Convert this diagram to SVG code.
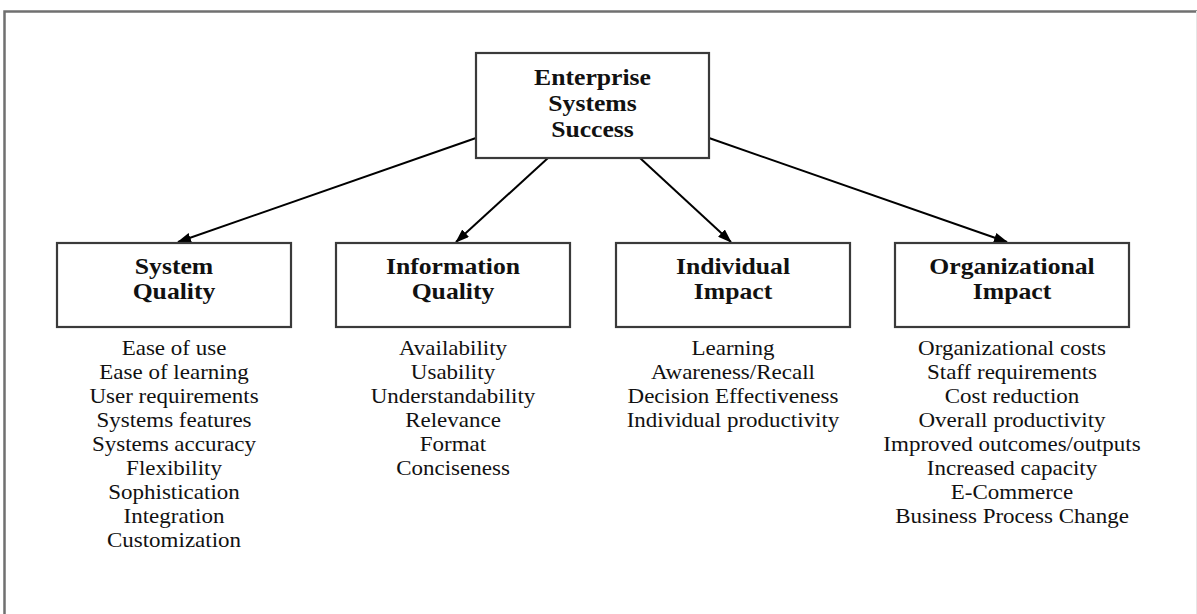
<svg xmlns="http://www.w3.org/2000/svg" width="1197" height="614" viewBox="0 0 1197 614">
<defs>
<style>
.frame{stroke:#707070;stroke-width:2.5;fill:none}
.box{fill:#fff;stroke:#3a3a3a;stroke-width:2.2}
.title{font-family:"Liberation Serif","Times New Roman",serif;font-weight:bold;font-size:24px;fill:#111;text-anchor:middle}
.item{font-family:"Liberation Serif","Times New Roman",serif;font-size:21.5px;fill:#111;text-anchor:middle}
.conn{stroke:#000;stroke-width:2;fill:none;marker-end:url(#ah)}
</style>
<marker id="ah" viewBox="0 0 14 10" refX="13" refY="5" markerWidth="14" markerHeight="10" markerUnits="userSpaceOnUse" orient="auto">
<path d="M0,0 L14,5 L0,10 Z" fill="#000"/>
</marker>
</defs>
<rect x="0" y="0" width="1197" height="614" fill="#fff"/>
<path class="frame" d="M4.5,614 V11.5 H1197"/>
<line x1="1196.5" y1="11" x2="1196.5" y2="614" stroke="#e6e6e6" stroke-width="1"/>

<g id="connectors">
<line class="conn" x1="476" y1="138" x2="178" y2="242"/>
<line class="conn" x1="548" y1="158" x2="456" y2="242"/>
<line class="conn" x1="640" y1="158" x2="731" y2="242"/>
<line class="conn" x1="709" y1="138" x2="1007" y2="242"/>
</g>

<g id="node-ess">
<rect class="box" x="476" y="53" width="233" height="105"/>
<g transform="translate(592.5,0) scale(1.07,1)">
<text class="title" x="0" y="85">Enterprise</text>
<text class="title" x="0" y="111">Systems</text>
<text class="title" x="0" y="137">Success</text>
</g>
</g>

<g id="node-system-quality">
<rect class="box" x="57" y="243" width="234" height="84"/>
<g transform="translate(174,0) scale(1.07,1)">
<text class="title" x="0" y="274">System</text>
<text class="title" x="0" y="299">Quality</text>
<text class="item" x="0" y="355">Ease of use</text>
<text class="item" x="0" y="379">Ease of learning</text>
<text class="item" x="0" y="403">User requirements</text>
<text class="item" x="0" y="427">Systems features</text>
<text class="item" x="0" y="451">Systems accuracy</text>
<text class="item" x="0" y="475">Flexibility</text>
<text class="item" x="0" y="499">Sophistication</text>
<text class="item" x="0" y="523">Integration</text>
<text class="item" x="0" y="547">Customization</text>
</g>
</g>

<g id="node-information-quality">
<rect class="box" x="336" y="243" width="234" height="84"/>
<g transform="translate(453,0) scale(1.07,1)">
<text class="title" x="0" y="274">Information</text>
<text class="title" x="0" y="299">Quality</text>
<text class="item" x="0" y="355">Availability</text>
<text class="item" x="0" y="379">Usability</text>
<text class="item" x="0" y="403">Understandability</text>
<text class="item" x="0" y="427">Relevance</text>
<text class="item" x="0" y="451">Format</text>
<text class="item" x="0" y="475">Conciseness</text>
</g>
</g>

<g id="node-individual-impact">
<rect class="box" x="616" y="243" width="234" height="84"/>
<g transform="translate(733,0) scale(1.07,1)">
<text class="title" x="0" y="274">Individual</text>
<text class="title" x="0" y="299">Impact</text>
<text class="item" x="0" y="355">Learning</text>
<text class="item" x="0" y="379">Awareness/Recall</text>
<text class="item" x="0" y="403">Decision Effectiveness</text>
<text class="item" x="0" y="427">Individual productivity</text>
</g>
</g>

<g id="node-organizational-impact">
<rect class="box" x="895" y="243" width="234" height="84"/>
<g transform="translate(1012,0) scale(1.07,1)">
<text class="title" x="0" y="274">Organizational</text>
<text class="title" x="0" y="299">Impact</text>
<text class="item" x="0" y="355">Organizational costs</text>
<text class="item" x="0" y="379">Staff requirements</text>
<text class="item" x="0" y="403">Cost reduction</text>
<text class="item" x="0" y="427">Overall productivity</text>
<text class="item" x="0" y="451">Improved outcomes/outputs</text>
<text class="item" x="0" y="475">Increased capacity</text>
<text class="item" x="0" y="499">E-Commerce</text>
<text class="item" x="0" y="523">Business Process Change</text>
</g>
</g>
</svg>
